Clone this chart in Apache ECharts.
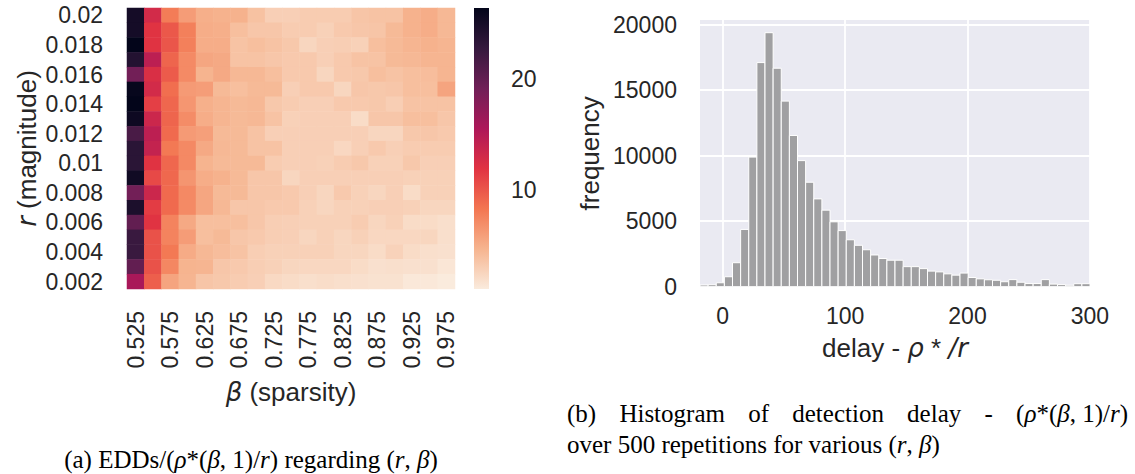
<!DOCTYPE html>
<html>
<head>
<meta charset="utf-8">
<script src="https://cdn.jsdelivr.net/npm/echarts@6/dist/echarts.min.js"></script>
<style>
  html, body { margin: 0; padding: 0; background: #ffffff; }
  #chart { width: 1135px; height: 474px; }
</style>
</head>
<body>
<div id="chart"></div>
<script>
// ---- (a) expected detection delays, normalised, over (r, beta) ----
const betaLabels = ['0.525', '0.55', '0.575', '0.6', '0.625', '0.65', '0.675', '0.7', '0.725', '0.75',
                    '0.775', '0.8', '0.825', '0.85', '0.875', '0.9', '0.925', '0.95', '0.975'];
// magnitudes listed bottom -> top
const rLabels = ['0.002', '0.003', '0.004', '0.005', '0.006', '0.007', '0.008', '0.009', '0.01', '0.011',
                 '0.012', '0.013', '0.014', '0.015', '0.016', '0.017', '0.018', '0.019', '0.02'];
// one row per magnitude, top row r = 0.02 down to r = 0.002; columns follow betaLabels
const eddRows = [
  [25.0, 13.0,  8.0, 6.2, 5.1, 4.9, 4.9, 3.9, 3.0, 3.0, 3.2, 3.2, 3.2, 3.7, 3.8, 3.8, 4.9, 5.2, 4.5],
  [25.0, 12.0, 10.0, 7.8, 5.2, 5.1, 4.1, 3.6, 3.6, 3.2, 3.2, 2.9, 3.4, 3.6, 3.7, 4.4, 4.9, 5.2, 4.5],
  [26.3, 12.0, 10.1, 7.8, 5.2, 5.2, 3.8, 4.1, 3.8, 3.5, 2.6, 3.0, 3.1, 2.9, 4.1, 4.4, 4.7, 4.9, 4.7],
  [24.0, 14.5,  9.3, 7.2, 5.6, 5.4, 3.8, 3.8, 3.6, 3.4, 3.4, 3.0, 3.4, 3.8, 3.8, 4.4, 4.5, 4.7, 4.7],
  [19.0, 12.5,  9.8, 7.2, 4.8, 5.4, 4.5, 4.5, 4.1, 3.4, 3.4, 2.6, 3.4, 3.5, 4.1, 3.8, 4.1, 4.2, 4.7],
  [26.0, 13.0,  8.8, 6.3, 6.1, 4.4, 4.1, 4.4, 4.4, 3.0, 3.4, 3.4, 2.6, 3.6, 3.5, 3.6, 4.1, 4.1, 5.7],
  [26.3, 11.3,  9.2, 6.5, 5.0, 4.7, 4.4, 4.5, 3.5, 3.2, 3.0, 3.0, 3.4, 3.4, 3.5, 3.1, 3.8, 3.8, 3.8],
  [25.5, 13.5,  9.3, 7.1, 5.2, 4.7, 4.4, 4.5, 3.8, 2.9, 3.0, 3.0, 3.0, 2.2, 3.6, 3.6, 4.1, 4.1, 3.6],
  [21.5, 14.5,  9.0, 6.3, 6.0, 4.4, 4.4, 3.8, 3.0, 3.0, 3.0, 3.0, 3.0, 3.0, 2.6, 2.6, 3.5, 3.6, 3.4],
  [23.5, 14.0,  8.2, 7.3, 5.4, 4.5, 4.4, 3.8, 3.8, 3.0, 3.0, 3.0, 2.5, 3.0, 3.4, 3.0, 3.2, 3.2, 3.2],
  [23.5, 12.0,  9.2, 7.3, 4.8, 4.4, 4.4, 4.4, 3.2, 3.0, 3.0, 2.9, 3.2, 3.5, 2.9, 2.9, 3.5, 3.0, 3.0],
  [25.3, 10.8,  9.1, 6.6, 5.2, 4.9, 4.4, 3.6, 3.6, 2.6, 3.0, 3.0, 3.0, 3.0, 3.0, 3.0, 2.9, 2.9, 2.9],
  [19.0, 13.5,  9.0, 7.3, 5.6, 4.4, 4.4, 3.6, 3.6, 3.4, 3.0, 2.6, 3.4, 2.9, 2.6, 3.0, 2.2, 2.9, 2.9],
  [24.5, 11.5,  9.0, 7.2, 5.6, 4.5, 3.6, 3.6, 3.4, 3.4, 2.9, 2.6, 2.9, 2.9, 3.0, 3.0, 2.9, 2.6, 2.6],
  [20.0, 12.0,  7.6, 5.4, 4.1, 4.1, 4.1, 3.6, 3.1, 3.0, 2.9, 2.9, 2.9, 3.2, 2.6, 2.9, 2.2, 2.2, 2.0],
  [22.5, 10.3,  7.6, 6.2, 4.1, 4.4, 3.6, 3.4, 3.1, 3.0, 2.6, 2.9, 2.6, 2.9, 2.5, 2.5, 2.5, 2.6, 2.0],
  [22.5, 10.3,  8.2, 5.3, 4.5, 4.2, 3.8, 3.1, 2.9, 2.9, 2.9, 2.9, 2.6, 2.6, 2.2, 2.8, 2.2, 2.0, 1.9],
  [20.0, 10.3,  7.4, 4.8, 4.7, 3.6, 3.4, 3.1, 2.9, 2.6, 2.5, 2.5, 2.5, 2.2, 1.9, 2.0, 1.9, 1.9, 1.5],
  [15.8,  9.6,  5.7, 4.7, 3.7, 3.5, 3.2, 3.0, 2.4, 2.2, 2.0, 2.1, 2.0, 1.9, 1.8, 1.8, 1.4, 1.4, 1.2]
];
const colorbarTicks = [10, 20];

// ---- (b) histogram of detection delay ----
const histStart = -18.6;      // left edge of first bin
const histBinWidth = 6.64;
const histCounts = [130, 150, 300, 760, 1830, 4370, 9890, 17100, 19380, 16670, 14160, 11540,
                    9620, 7970, 6700, 5840, 4950, 4280, 3580, 3160, 2820, 2420, 2150, 2020,
                    2020, 1530, 1530, 1380, 1190, 1130, 980, 880, 1040, 700, 600, 530,
                    490, 380, 540, 340, 240, 240, 540, 200, 160, 110, 230, 230];
const histXTicks = [0, 100, 200, 300];
const histYTicks = [0, 5000, 10000, 15000, 20000];

// sub-figure captions; each word is a list of [text, italic] pieces
const captionA = [[['(a)', 0]], [['EDDs/(', 0], ['ρ', 1], ['*(', 0], ['β', 1], [', 1)/', 0], ['r', 1], [')', 0]],
                  [['regarding', 0]], [['(', 0], ['r', 1], [', ', 0], ['β', 1], [')', 0]]];
const captionB1 = [[['(b)', 0]], [['Histogram', 0]], [['of', 0]], [['detection', 0]], [['delay', 0]], [['-', 0]],
                   [['(', 0], ['ρ', 1], ['*(', 0], ['β', 1], [', 1)/', 0], ['r', 1], [')', 0]]];
const captionB2 = [[['over', 0]], [['500', 0]], [['repetitions', 0]], [['for', 0]], [['various', 0]],
                   [['(', 0], ['r', 1], [', ', 0], ['β', 1], [')', 0]]];

// seaborn "rocket" reversed: light for small values, dark for large
const rocketR = ['#FAEBDD', '#F6B48F', '#F37651', '#E13342', '#AD1759', '#701F57', '#35193E', '#03051A'];

const SANS = '"Liberation Sans", Arial, sans-serif';
const MATH = '"DejaVu Sans", sans-serif';
const SERIF = '"Liberation Serif", "Times New Roman", serif';
const INK = '#262626';
const CAP_SIZE = 25;

const heatData = [];
eddRows.forEach((row, i) => {
  row.forEach((v, j) => heatData.push([j, rLabels.length - 1 - i, v]));
});
const allVals = eddRows.flat();
const cMin = Math.min(...allVals);
const cMax = Math.max(...allVals);

const histData = histCounts.map((c, i) => [histStart + i * histBinWidth, histStart + (i + 1) * histBinWidth, c]);
const histMax = Math.max(...histCounts) * 1.05;

const mathRich = (size) => ({
  i: { fontFamily: MATH, fontStyle: 'italic', fontSize: size, color: INK }
});

// caption text helpers: measure words and (optionally) justify a line to a given width
const measureCtx = document.createElement('canvas').getContext('2d');
const capFont = (italic) => (italic ? 'italic ' : 'normal ') + CAP_SIZE + 'px ' + SERIF;
function wordWidth(word) {
  return word.reduce((s, [t, it]) => { measureCtx.font = capFont(it); return s + measureCtx.measureText(t).width; }, 0);
}
function wordRich(word) {
  return word.map(([t, it]) => it ? '{i|' + t + '}' : '{n|' + t + '}').join('');
}
function captionText(words, lineWidth) {
  measureCtx.font = capFont(0);
  let gap = measureCtx.measureText(' ').width;
  if (lineWidth) {
    const total = words.reduce((s, w) => s + wordWidth(w), 0);
    gap = (lineWidth - total) / (words.length - 1);
  }
  return {
    text: words.map(wordRich).join('{g| }'),
    rich: {
      n: { font: capFont(0), fill: '#000' },
      i: { font: capFont(1), fill: '#000' },
      g: { font: capFont(0), fill: '#000', width: gap }
    }
  };
}
const capA = captionText(captionA);
const capB1 = captionText(captionB1, 561);
const capB2 = captionText(captionB2);

const chart = echarts.init(document.getElementById('chart'), null, { renderer: 'svg' });

chart.setOption({
  animation: false,
  backgroundColor: '#ffffff',
  grid: [
    { left: 127, top: 8, width: 328, height: 281, outerBoundsMode: 'none' },
    { left: 474, top: 8, width: 15, height: 281, outerBoundsMode: 'none' },
    { left: 700, top: 20, width: 390, height: 266.7, outerBoundsMode: 'none',
      show: true, backgroundColor: '#EAEAF2', borderWidth: 0 }
  ],
  xAxis: [
    {
      gridIndex: 0, type: 'category', data: betaLabels,
      axisLine: { show: false }, axisTick: { show: false }, splitLine: { show: false },
      axisLabel: { interval: 1, rotate: 90, margin: 22, fontFamily: SANS, fontSize: 23, color: INK },
      name: '{i|β} (sparsity)', nameLocation: 'middle', nameGap: 90,
      nameTextStyle: { fontFamily: SANS, fontSize: 26, color: INK, rich: mathRich(26) }
    },
    { gridIndex: 1, type: 'value', min: 0, max: 1, show: false },
    {
      gridIndex: 2, type: 'value', min: histStart, max: histStart + histCounts.length * histBinWidth,
      interval: 100,
      axisLine: { show: false },
      axisTick: { show: false, customValues: histXTicks },
      axisLabel: { customValues: histXTicks, margin: 18, fontFamily: SANS, fontSize: 23, color: INK,
                   formatter: (v) => String(v) },
      splitLine: { show: true, lineStyle: { color: '#ffffff', width: 1.8 } },
      name: 'delay - {i|ρ} * {i|/r}', nameLocation: 'middle', nameGap: 48,
      nameTextStyle: { fontFamily: SANS, fontSize: 26, color: INK, rich: mathRich(26) }
    }
  ],
  yAxis: [
    {
      gridIndex: 0, type: 'category', data: rLabels,
      axisLine: { show: false }, axisTick: { show: false }, splitLine: { show: false },
      axisLabel: { interval: 1, margin: 24, fontFamily: SANS, fontSize: 23, color: INK },
      name: '{i|r} (magnitude)', nameLocation: 'middle', nameGap: 87,
      nameTextStyle: { fontFamily: SANS, fontSize: 26, color: INK, rich: mathRich(26) }
    },
    {
      gridIndex: 1, type: 'value', min: cMin, max: cMax, position: 'right',
      axisLine: { show: false }, splitLine: { show: false },
      axisTick: { show: true, length: 11, customValues: colorbarTicks, lineStyle: { color: INK, width: 2 } },
      axisLabel: { customValues: colorbarTicks, margin: 22, fontFamily: SANS, fontSize: 23, color: INK }
    },
    {
      gridIndex: 2, type: 'value', min: 0, max: histMax, interval: 5000,
      axisLine: { show: false },
      axisTick: { show: false, customValues: histYTicks },
      axisLabel: { customValues: histYTicks, margin: 23, fontFamily: SANS, fontSize: 23, color: INK,
                   formatter: (v) => String(v) },
      splitLine: { show: true, lineStyle: { color: '#ffffff', width: 1.8 } },
      name: 'frequency', nameLocation: 'middle', nameGap: 97,
      nameTextStyle: { fontFamily: SANS, fontSize: 26, color: INK }
    }
  ],
  visualMap: {
    show: false, type: 'continuous', seriesIndex: 0,
    min: cMin, max: cMax, inRange: { color: rocketR }
  },
  series: [
    {
      type: 'heatmap', xAxisIndex: 0, yAxisIndex: 0, data: heatData,
      itemStyle: { borderWidth: 0 }, emphasis: { disabled: true }
    },
    {
      // colour bar for the heatmap scale
      type: 'custom', xAxisIndex: 1, yAxisIndex: 1, data: [[0, cMin]], silent: true,
      renderItem: (params, api) => {
        const a = api.coord([0, cMax]);
        const b = api.coord([1, cMin]);
        const stops = rocketR.slice().reverse().map((c, k, arr) => ({ offset: k / (arr.length - 1), color: c }));
        return {
          type: 'rect',
          shape: { x: a[0], y: a[1], width: b[0] - a[0], height: b[1] - a[1] },
          style: { fill: new echarts.graphic.LinearGradient(0, 0, 0, 1, stops) }
        };
      }
    },
    {
      type: 'custom', xAxisIndex: 2, yAxisIndex: 2, data: histData, silent: true,
      encode: { x: [0, 1], y: 2 },
      renderItem: (params, api) => {
        const p0 = api.coord([api.value(0), api.value(2)]);
        const p1 = api.coord([api.value(1), 0]);
        return {
          type: 'rect',
          shape: { x: p0[0], y: p0[1], width: p1[0] - p0[0], height: p1[1] - p0[1] },
          style: { fill: '#A0A0A2', stroke: '#ffffff', lineWidth: 1 }
        };
      }
    }
  ],
  graphic: [
    {
      type: 'text', x: 251, y: 459,
      style: { text: capA.text, rich: capA.rich, font: capFont(0), fill: '#000', align: 'center', verticalAlign: 'middle' }
    },
    {
      type: 'text', x: 567, y: 413,
      style: { text: capB1.text, rich: capB1.rich, font: capFont(0), fill: '#000', align: 'left', verticalAlign: 'middle' }
    },
    {
      type: 'text', x: 567, y: 444,
      style: { text: capB2.text, rich: capB2.rich, font: capFont(0), fill: '#000', align: 'left', verticalAlign: 'middle' }
    }
  ]
});
</script>
</body>
</html>
